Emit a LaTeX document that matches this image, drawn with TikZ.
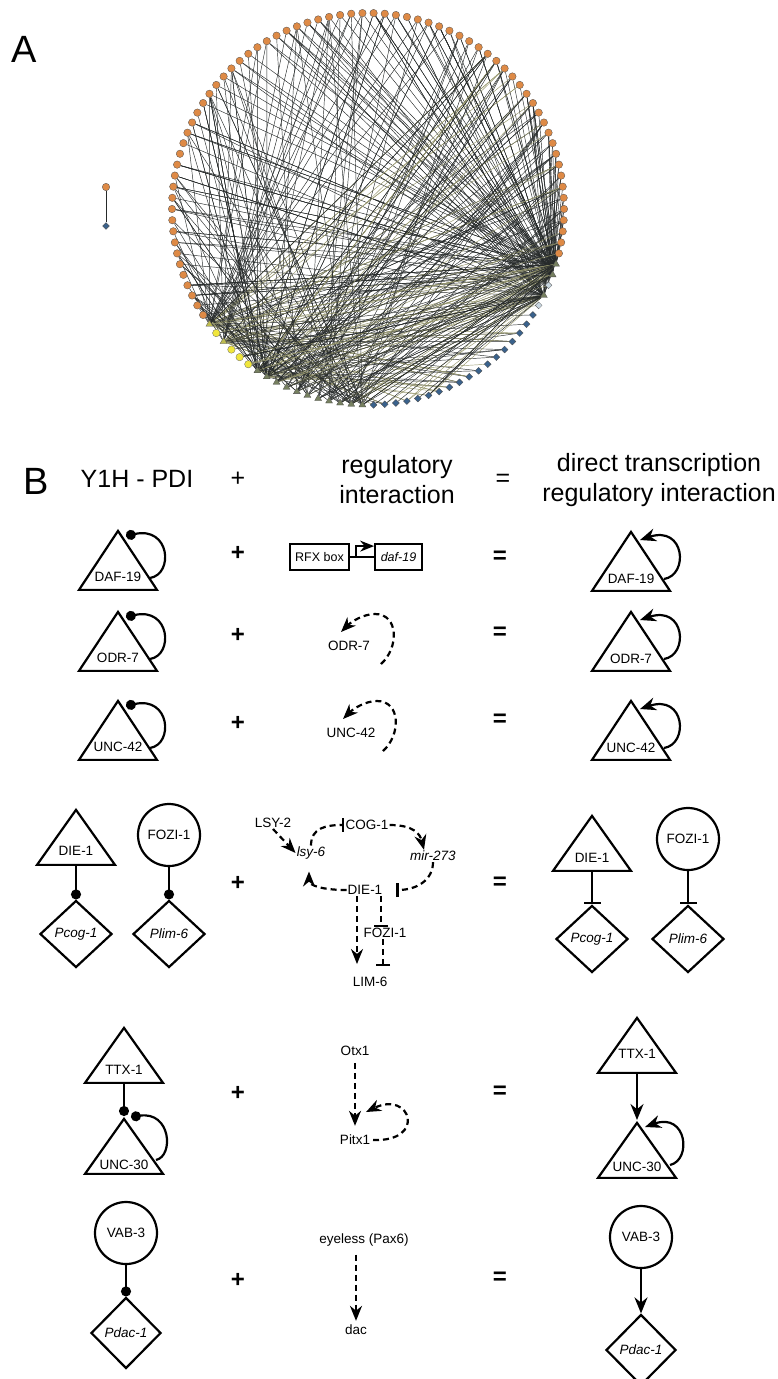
\documentclass[tikz,border=0pt]{standalone}
\usepackage{fontspec}
\setmainfont{Liberation Sans}
\usetikzlibrary{arrows.meta,positioning,shapes.geometric,calc,backgrounds}

\definecolor{nodeOr}{RGB}{222,138,70}
\definecolor{nodeYe}{RGB}{240,230,60}
\definecolor{nodeOl}{RGB}{190,188,80}
\definecolor{nodeGr}{RGB}{118,128,96}
\definecolor{nodeBl}{RGB}{58,98,140}
\definecolor{nodeLb}{RGB}{200,214,224}
\definecolor{edgeDk}{RGB}{38,42,42}
\definecolor{edgeOv}{RGB}{150,150,108}

\begin{document}
\begin{tikzpicture}[x=1pt,y=-1pt,
    lbl/.style={font=\fontsize{13.5}{15}\selectfont,inner sep=1pt},
    hdr/.style={font=\fontsize{25}{30}\selectfont,align=center,inner sep=0pt},
    op/.style={font=\bfseries\fontsize{24}{24}\selectfont,inner sep=0pt}]
  \tikzstyle{netO}=[circle,draw=black!70,line width=0.3pt,fill=nodeOr,minimum size=7.5pt,inner sep=0pt]
  \tikzstyle{netY}=[circle,draw=black!60,line width=0.3pt,fill=nodeYe,minimum size=7.5pt,inner sep=0pt]
  \tikzstyle{netT}=[regular polygon,regular polygon sides=3,draw=black!70,line width=0.3pt,fill=nodeGr,minimum size=8pt,inner sep=0pt]
  \tikzstyle{netB}=[diamond,draw=black!70,line width=0.3pt,fill=nodeBl,minimum size=7pt,inner sep=0pt]
  \tikzstyle{edgeD}=[draw=edgeDk,line width=0.45pt]
  \tikzstyle{edgeL}=[draw=edgeOv,line width=0.45pt]
  \tikzstyle{triBig}=[isosceles triangle,isosceles triangle stretches,shape border rotate=90,draw,line width=2.2pt,minimum width=78pt,minimum height=59pt,inner sep=0pt]
  \tikzstyle{triSm}=[triBig,minimum width=78pt,minimum height=55pt]
  \tikzstyle{circ}=[circle,draw,line width=2.2pt,minimum size=62pt,inner sep=0pt,font=\fontsize{13.5}{15}\selectfont]
  \tikzstyle{dia}=[diamond,draw,line width=2.2pt,minimum width=72pt,minimum height=67pt,inner sep=0pt,font=\itshape\fontsize{13.5}{15}\selectfont]
  \tikzstyle{gbox}=[rectangle,draw,line width=1.8pt,minimum height=26pt,inner sep=0pt,font=\fontsize{12.5}{14}\selectfont]
  \tikzstyle{ybind}=[line width=2.2pt,-{Circle[length=10pt]}]
  \tikzstyle{yact}=[line width=2.2pt,-{Stealth[length=16pt,width=13pt]}]
  \tikzstyle{yinh}=[line width=2.2pt,-{Bar[width=17pt]}]
  \tikzstyle{dact}=[line width=2.2pt,dash pattern=on 6pt off 4pt,-{Stealth[length=15pt,width=12pt]}]
  \tikzstyle{dinh}=[line width=2.2pt,dash pattern=on 6pt off 4pt,-{Bar[width=14pt]}]

  \useasboundingbox (0,0) rectangle (777,1379);

  % panel A: circular network
  \node[font=\fontsize{38}{38}\selectfont,inner sep=0pt] (labA) at (24,49) {A};
  \begin{scope}[shift={(368,209)}]
    \foreach \k in {40,...,109}
      \node[netO] (n\k) at (144-3.2727*\k:196) {};
    \foreach \k in {1,3,4,5}
      \node[netY] (n\k) at (144-3.2727*\k:196) {};
    \foreach \k in {0,2}
      \node[netT,fill=nodeOl] (n\k) at (144-3.2727*\k:196) {};
    \foreach \k in {6,...,16,36,38,39}
      \node[netT] (n\k) at (144-3.2727*\k:196) {};
    \foreach \k in {17,...,34}
      \node[netB] (n\k) at (144-3.2727*\k:196) {};
    \foreach \k in {35,37}
      \node[netB,fill=nodeLb] (n\k) at (144-3.2727*\k:196) {};
  \end{scope}
  \node[netO] (solo1) at (106,187) {};
  \node[netB] (solo2) at (106,226) {};
  \draw[edgeD] (solo1) -- (solo2);

  \begin{scope}[on background layer]
    \pgfmathdeclarerandomlist{hubR}{{36}{38}{39}}
    \pgfmathdeclarerandomlist{hubL}{{0}{2}{6}{7}}
    \pgfmathdeclarerandomlist{tfB}{{6}{7}{8}{9}{10}{11}{12}{13}{14}{15}{16}}
    \pgfmathsetseed{4}
    \foreach \i in {1,...,140}{
      \pgfmathrandomitem{\s}{hubR}
      \pgfmathrandominteger{\t}{40}{109}
      \draw[edgeD] (n\s) -- (n\t);
    }
    \foreach \i in {1,...,50}{
      \pgfmathrandomitem{\s}{hubL}
      \pgfmathrandominteger{\t}{17}{60}
      \draw[edgeD] (n\s) -- (n\t);
    }
    \foreach \i in {1,...,50}{
      \pgfmathrandomitem{\s}{hubL}
      \pgfmathrandominteger{\t}{17}{60}
      \draw[edgeL] (n\s) -- (n\t);
    }
    \foreach \i in {1,...,50}{
      \pgfmathrandomitem{\s}{hubL}
      \pgfmathrandominteger{\t}{60}{109}
      \draw[edgeD] (n\s) -- (n\t);
    }
    \foreach \i in {1,...,90}{
      \pgfmathrandomitem{\s}{tfB}
      \pgfmathrandominteger{\t}{40}{109}
      \draw[edgeD] (n\s) -- (n\t);
    }
    \foreach \i in {1,...,35}{
      \pgfmathrandomitem{\s}{hubR}
      \pgfmathrandominteger{\t}{0}{22}
      \draw[edgeL] (n\s) -- (n\t);
    }
    \foreach \i in {1,...,35}{
      \pgfmathrandomitem{\s}{hubR}
      \pgfmathrandominteger{\t}{0}{22}
      \draw[edgeD] (n\s) -- (n\t);
    }
  \end{scope}

  % panel B: header
  \node[font=\fontsize{38}{38}\selectfont,inner sep=0pt] (labB) at (36,481) {B};
  \node[hdr] (hY1H) at (137,479) {Y1H - PDI};
  \node[hdr] (hplus) at (238,479) {+};
  \node[hdr] (hreg) at (397,480) {regulatory\\interaction};
  \node[hdr] (heq) at (503,480) {=};
  \node[hdr] (hdir) at (659,480) {direct transcription\\regulatory interaction};

  % rows 1-3: autoregulation
  \node[triBig,anchor=apex] (daf1) at (118,528) {};
  \node[lbl,above=8pt of daf1.lower side] (daf1t) {DAF-19};
  \draw[ybind] ($(daf1.apex)+(32,50)$) .. controls +(24,-4) and +(44,-10) .. ($(daf1.apex)+(8,8)$);
  \node[triBig,anchor=apex] (odr1) at (118,609) {};
  \node[lbl,above=8pt of odr1.lower side] (odr1t) {ODR-7};
  \draw[ybind] ($(odr1.apex)+(32,50)$) .. controls +(24,-4) and +(44,-10) .. ($(odr1.apex)+(8,8)$);
  \node[triBig,anchor=apex] (unc1) at (118,698) {};
  \node[lbl,above=8pt of unc1.lower side] (unc1t) {UNC-42};
  \draw[ybind] ($(unc1.apex)+(32,50)$) .. controls +(24,-4) and +(44,-10) .. ($(unc1.apex)+(8,8)$);

  \node[op] (plus1) at (238,553) {+};
  \node[op] (plus2) at (238,635) {+};
  \node[op] (plus3) at (238,723) {+};
  \node[op] (eq1) at (500,557) {=};
  \node[op] (eq2) at (500,633) {=};
  \node[op] (eq3) at (500,720) {=};

  \node[gbox,minimum width=59pt] (rfx) at (319.5,557) {RFX box};
  \node[gbox,minimum width=47pt] (dafg) at (398.5,557) {\textit{daf-19}};
  \draw[line width=2.4pt] (rfx) -- (dafg);
  \draw[line width=1.8pt,-{Stealth[length=14pt,width=11pt]}] ([xshift=6pt]rfx.east) |- ([yshift=-3pt]dafg.north west);

  \node[lbl] (odr) at (349,646) {ODR-7};
  \draw[dact] ($(odr)+(32,18)$) .. controls +(18,-16) and +(24,0) .. ($(odr)+(26,-32)$) .. controls +(-12,0) and +(10,-10) .. ($(odr)+(-8,-14)$);
  \node[lbl] (unc) at (351,733) {UNC-42};
  \draw[dact] ($(unc)+(32,18)$) .. controls +(18,-16) and +(24,0) .. ($(unc)+(26,-32)$) .. controls +(-12,0) and +(10,-10) .. ($(unc)+(-8,-14)$);

  \node[triBig,anchor=apex] (daf2) at (631,529) {};
  \node[lbl,above=7pt of daf2.lower side] (daf2t) {DAF-19};
  \draw[yact] ($(daf2.apex)+(33,50)$) .. controls +(25,-4) and +(45,-15) .. ($(daf2.apex)+(9,11)$);
  \node[triBig,anchor=apex] (odr2) at (631,609) {};
  \node[lbl,above=7pt of odr2.lower side] (odr2t) {ODR-7};
  \draw[yact] ($(odr2.apex)+(33,50)$) .. controls +(25,-4) and +(45,-15) .. ($(odr2.apex)+(9,11)$);
  \node[triBig,anchor=apex] (unc2) at (631,698) {};
  \node[lbl,above=7pt of unc2.lower side] (unc2t) {UNC-42};
  \draw[yact] ($(unc2.apex)+(33,50)$) .. controls +(25,-4) and +(45,-15) .. ($(unc2.apex)+(9,11)$);

  % row 4: DIE-1 / FOZI-1
  \node[triSm,anchor=apex] (die1l) at (76,807) {};
  \node[lbl,above=9pt of die1l.lower side] (die1lt) {DIE-1};
  \node[circ] (fozl) at (169,835) {FOZI-1};
  \node[dia] (pcogl) at (76,934) {Pcog-1};
  \node[dia] (pliml) at (169,934) {Plim-6};
  \draw[ybind] (die1l.lower side) -- (pcogl.north);
  \draw[ybind] (fozl.south) -- (pliml.north);

  \node[op] (plus4) at (238,883) {+};
  \node[op] (eq4) at (500,883) {=};

  \node[lbl] (lsy2) at (273,823) {LSY-2};
  \node[lbl] (cog1) at (367,825) {COG-1};
  \node[lbl] (lsy6) at (311,853) {\textit{lsy-6}};
  \node[lbl] (mir) at (433,856) {\textit{mir-273}};
  \node[lbl] (die1c) at (365,890) {DIE-1};
  \node[lbl] (fozc) at (385,933) {FOZI-1};
  \node[lbl] (lim6) at (370,982) {LIM-6};
  \draw[dact] (lsy2.south) -- (lsy6.west);
  \draw[dinh] (lsy6.north) .. controls +(0,-18) and +(-18,0) .. (cog1.west);
  \draw[dact] (cog1.east) .. controls +(24,0) and +(-4,-16) .. ([xshift=-9pt]mir.north);
  \draw[dinh] (mir.south) .. controls +(0,18) and +(20,0) .. ([xshift=13pt]die1c.east);
  \draw[dact] (die1c.west) .. controls +(-24,0) and +(0,14) .. ([xshift=-2pt,yshift=-11pt]lsy6.south);
  \draw[dact] ([xshift=-8pt]die1c.south) -- ([xshift=-13pt,yshift=12pt]lim6.north);
  \draw[dinh] ([xshift=16pt]die1c.south) -- ([xshift=-4pt]fozc.north);
  \draw[dinh] ([xshift=-2pt]fozc.south) -- ([xshift=13pt,yshift=10pt]lim6.north);

  \node[triSm,anchor=apex] (die1r) at (592,813) {};
  \node[lbl,above=8pt of die1r.lower side] (die1rt) {DIE-1};
  \node[circ] (fozr) at (688,839) {FOZI-1};
  \node[dia] (pcogr) at (592,939) {Pcog-1};
  \node[dia] (plimr) at (688,939) {Plim-6};
  \draw[yinh] (die1r.lower side) -- (pcogr.north);
  \draw[yinh] (fozr.south) -- (plimr.north);

  % row 5: TTX-1 / UNC-30
  \node[triSm,anchor=apex] (ttxl) at (124,1025) {};
  \node[lbl,above=8pt of ttxl.lower side] (ttxlt) {TTX-1};
  \node[triSm,anchor=apex] (unc30l) at (124,1116) {};
  \node[lbl,above=4pt of unc30l.lower side] (unc30lt) {UNC-30};
  \draw[ybind] (ttxl.lower side) -- (unc30l.apex);
  \draw[ybind] ($(unc30l.apex)+(32,44)$) .. controls +(18,-4) and +(40,-6) .. ($(unc30l.apex)+(7,1)$);

  \node[op] (plus5) at (238,1093) {+};
  \node[op] (eq5) at (500,1092) {=};

  \node[lbl] (otx) at (355,1051) {Otx1};
  \node[lbl] (pitx) at (355,1140) {Pitx1};
  \draw[dact,shorten <=6pt,shorten >=8pt] (otx) -- (pitx);
  \draw[dact] ($(pitx)+(18,0)$) .. controls +(54,2) and +(45,-22) .. ($(pitx)+(11,-28)$);

  \node[triSm,anchor=apex] (ttxr) at (637,1015) {};
  \node[lbl,above=14pt of ttxr.lower side] (ttxrt) {TTX-1};
  \node[triSm,anchor=apex] (unc30r) at (637,1120) {};
  \node[lbl,above=6pt of unc30r.lower side] (unc30rt) {UNC-30};
  \draw[yact] (ttxr.lower side) -- (unc30r.apex);
  \draw[yact] ($(unc30r.apex)+(33,45)$) .. controls +(22,-5) and +(42,-15) .. ($(unc30r.apex)+(8,7)$);

  % row 6: VAB-3
  \node[circ] (vabl) at (126,1233) {VAB-3};
  \node[dia,minimum width=70pt,minimum height=71pt] (pdacl) at (126,1333) {Pdac-1};
  \draw[ybind] (vabl) -- (pdacl);

  \node[op] (plus6) at (238,1280) {+};
  \node[op] (eq6) at (500,1278) {=};

  \node[lbl] (eyl) at (364,1240) {eyeless (Pax6)};
  \node[lbl] (dac) at (356,1330) {dac};
  \draw[dact,shorten <=7pt] ([xshift=-8pt]eyl.south) -- ([yshift=3pt]dac.north);

  \node[circ] (vabr) at (641,1237) {VAB-3};
  \node[dia,minimum width=70pt,minimum height=71pt] (pdacr) at (641,1350) {Pdac-1};
  \draw[yact] (vabr) -- (pdacr);
\end{tikzpicture}
\end{document}
